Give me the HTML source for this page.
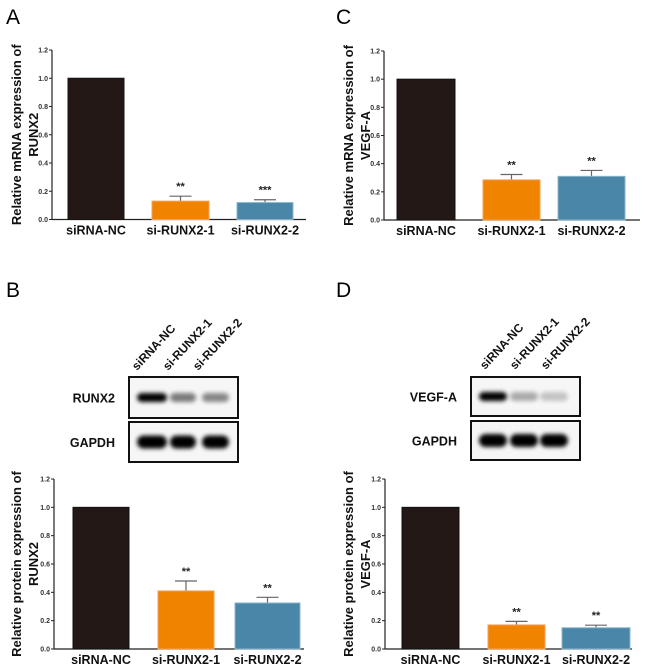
<!DOCTYPE html>
<html><head><meta charset="utf-8">
<style>
html,body{margin:0;padding:0;background:#fff;}
svg{display:block;font-family:"Liberation Sans",Arial,sans-serif;}
</style></head>
<body>
<svg id="fig" width="650" height="671" viewBox="0 0 650 671">
<defs>
<filter id="blur" x="-30%" y="-80%" width="160%" height="260%"><feGaussianBlur stdDeviation="2"/></filter>
</defs>
<text x="6" y="24" font-size="21">A</text>
<text x="6" y="297" font-size="21">B</text>
<text x="336" y="24" font-size="21">C</text>
<text x="336" y="297" font-size="21">D</text>
</svg>
<script>
const categories = ["siRNA-NC", "si-RUNX2-1", "si-RUNX2-2"];
const tickLabels = ["0.0","0.2","0.4","0.6","0.8","1.0","1.2"];
const tickValues = [0,0.2,0.4,0.6,0.8,1.0,1.2];
const valuesA = [1.0, 0.13, 0.12];
const errorsA = [0, 0.035, 0.02];
const starsA = ["", "**", "***"];
const valuesB = [1.0, 0.41, 0.325];
const errorsB = [0, 0.07, 0.04];
const starsB = ["", "**", "**"];
const valuesC = [1.0, 0.285, 0.31];
const errorsC = [0, 0.038, 0.042];
const starsC = ["", "**", "**"];
const valuesD = [1.0, 0.17, 0.15];
const errorsD = [0, 0.025, 0.018];
const starsD = ["", "**", "**"];
const wbBandsB = [1.0, 0.5, 0.45];
const wbBandsD = [1.0, 0.3, 0.2];

const NS = "http://www.w3.org/2000/svg";
const svg = document.getElementById("fig");
const fills = ["#231815", "#f08300", "#4a86a8"];
const strokes = ["#111", "#f5a05a", "#8cb5cc"];
function mk(tag, attrs, parent) {
  const e = document.createElementNS(NS, tag);
  for (const k in attrs) e.setAttribute(k, attrs[k]);
  (parent || svg).appendChild(e);
  return e;
}
function chart(cfg, values, errors, stars, name) {
  const g = mk("g", {});
  
  
  const y = v => cfg.y0 - (cfg.y0 - cfg.y12) * v / 1.2;
  const ax = mk("line", {x1: cfg.ax, y1: cfg.y12, x2: cfg.ax, y2: cfg.y0 + 0.5, stroke: "#222", "stroke-width": 1.2}, g);
  
  
  const xl = mk("line", {x1: cfg.ax, y1: cfg.y0, x2: cfg.xend, y2: cfg.y0, stroke: "#222", "stroke-width": 1.2}, g);
  
  
  tickValues.forEach((v, i) => {
    mk("line", {x1: cfg.ax - 3, y1: y(v), x2: cfg.ax, y2: y(v), stroke: "#222", "stroke-width": 1}, g);
    const t = mk("text", {x: cfg.ax - 4, y: y(v) + 2.5, "font-size": 7, "font-weight": "bold", "text-anchor": "end", fill: "#333"}, g);
    t.textContent = tickLabels[i];
    
    
  });
  values.forEach((v, i) => {
    const [x1, x2] = cfg.bars[i];
    const cx = (x1 + x2) / 2;
    if (errors[i] > 0) {
      mk("line", {x1: cx, y1: y(v), x2: cx, y2: y(v + errors[i]), stroke: "#666", "stroke-width": 1.2}, g);
      mk("line", {x1: cx - 11, y1: y(v + errors[i]), x2: cx + 11, y2: y(v + errors[i]), stroke: "#666", "stroke-width": 1.2}, g);
    }
    const r = mk("rect", {x: x1, y: y(v), width: x2 - x1, height: cfg.y0 - y(v), fill: fills[i], stroke: strokes[i], "stroke-width": 1}, g);
    
    
    if (stars[i]) {
      const s = mk("text", {x: cx, y: y(v + errors[i]) - 6, "font-size": 11, "font-weight": "bold", "text-anchor": "middle", fill: "#222"}, g);
      s.textContent = stars[i];
      
      
    }
    const c = mk("text", {x: cx, y: cfg.y0 + 15, "font-size": 12.5, "font-weight": "bold", "text-anchor": "middle", fill: "#111"}, g);
    c.textContent = categories[i];
    
    
  });
  const cy = (cfg.y0 + cfg.y12) / 2 + cfg.tshift;
  const t1 = mk("text", {x: 0, y: 0, "font-size": 13, "font-weight": "bold", "text-anchor": "middle", fill: "#111", transform: `translate(${cfg.tx},${cy}) rotate(-90)`}, g);
  t1.textContent = cfg.title1;
  
  
  const t2 = mk("text", {x: 0, y: 0, "font-size": 13, "font-weight": "bold", "text-anchor": "middle", fill: "#111", transform: `translate(${cfg.tx + 17},${cy}) rotate(-90)`}, g);
  t2.textContent = cfg.title2;
  
  
}
chart({ax: 52, y12: 50, y0: 219.5, xend: 306, bars: [[68,124],[152,209],[237,293]], tx: 21, tshift: 0, title1: "Relative mRNA expression of", title2: "RUNX2"}, valuesA, errorsA, starsA, "chart-a");
chart({ax: 384, y12: 51, y0: 220, xend: 640, bars: [[397,455],[483,540],[558,625]], tx: 353, tshift: 0, title1: "Relative  mRNA expression of", title2: "VEGF-A"}, valuesC, errorsC, starsC, "chart-c");
chart({ax: 54, y12: 479, y0: 649, xend: 304, bars: [[73,129],[158,214],[235,300]], tx: 21, tshift: 0, title1: "Relative protein expression of", title2: "RUNX2"}, valuesB, errorsB, starsB, "chart-b");
chart({ax: 385, y12: 479, y0: 649, xend: 632, bars: [[402,459],[488,545],[562,630]], tx: 353, tshift: 0, title1: "Relative protein expression of", title2: "VEGF-A"}, valuesD, errorsD, starsD, "chart-d");

function blot(cfg, bands, name) {
  const g = mk("g", {});
  
  
  categories.forEach((c, i) => {
    const t = mk("text", {x: 0, y: 0, "font-size": 12, "font-weight": "bold", fill: "#111", transform: `translate(${cfg.lx[i]},${cfg.ly}) rotate(-47)`}, g);
    t.textContent = c;
    
    
  });
  const rows = [[cfg.y1, cfg.h1, cfg.label, bands, 9], [cfg.y2, cfg.h2, "GAPDH", [1, 1, 1], 13]];
  rows.forEach(([yy, hh, lab, bs, th]) => {
    mk("rect", {x: cfg.x, y: yy, width: cfg.w, height: hh, fill: "#f6f6f6", stroke: "#111", "stroke-width": 2}, g);
    const l = mk("text", {x: cfg.x - 14, y: yy + hh / 2 + 5, "font-size": 12.5, "font-weight": "bold", "text-anchor": "end", fill: "#111"}, g);
    l.textContent = lab;
    
    
    bs.forEach((b, i) => {
      const [a, z] = cfg.lanes[i];
      const e = mk("rect", {x: a, y: yy + hh / 2 - th / 2, width: z - a, height: th, rx: th / 2, fill: "#000", opacity: Math.min(1, b), filter: "url(#blur)"}, g);
      
      
    });
  });
}
blot({x: 129, w: 109, y1: 377, h1: 41, y2: 422, h2: 40, label: "RUNX2", lanes: [[137,167],[170,196],[202,229]], lx: [137,168,198], ly: 371}, wbBandsB, "western-blot-b");
blot({x: 471, w: 109, y1: 377, h1: 39, y2: 421, h2: 39, label: "VEGF-A", lanes: [[479,507],[510,538],[540,568]], lx: [485,515,546], ly: 370}, wbBandsD, "western-blot-d");
</script>
</body></html>
